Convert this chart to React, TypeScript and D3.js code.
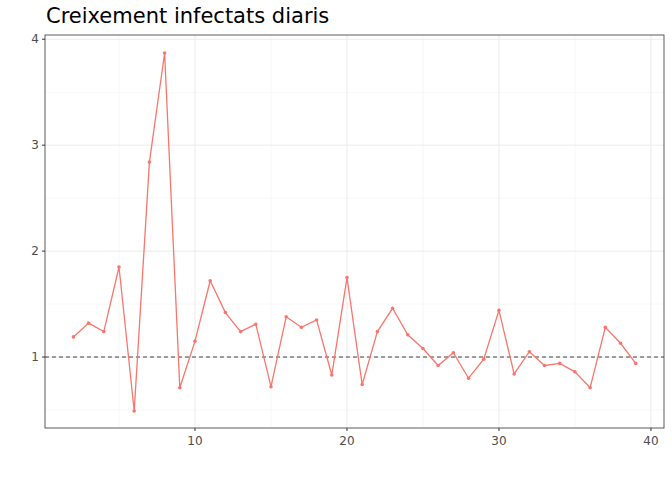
import * as d3 from 'd3';

const days = [2,3,4,5,6,7,8,9,10,11,12,13,14,15,16,17,18,19,20,21,22,23,24,25,26,27,28,29,30,31,32,33,34,35,36,37,38,39];
const growth = [1.19,1.32,1.24,1.85,0.49,2.84,3.87,0.71,1.15,1.72,1.42,1.24,1.31,0.72,1.38,1.28,1.35,0.83,1.75,0.74,1.24,1.46,1.21,1.08,0.92,1.04,0.80,0.98,1.44,0.84,1.05,0.92,0.94,0.86,0.71,1.28,1.13,0.94];
const xTicks = [10, 20, 30, 40];
const xMinor = [5, 15, 25, 35];
const yTicks = [1, 2, 3, 4];
const yMinor = [0.5, 1.5, 2.5, 3.5];

export default function App() {
  const W = 672, H = 480;
  const m = { left: 45, right: 8, top: 35, bottom: 52 };
  const x = d3.scaleLinear().domain([0.13, 40.86]).range([m.left, W - m.right]);
  const y = d3.scaleLinear().domain([0.33, 4.04]).range([H - m.bottom, m.top]);
  const line = d3.line<number>().x((_, i) => x(days[i])).y(d => y(d));
  const font = 'DejaVu Sans, sans-serif';
  return (
    <svg width={W} height={H} style={{ position: 'absolute', left: 0, top: 0 }} fontFamily={font}>
      <rect width={W} height={H} fill="#fff" />
      {xMinor.map(t => <line key={'xm' + t} x1={x(t)} x2={x(t)} y1={m.top} y2={H - m.bottom} stroke="#f2f2f2" strokeWidth={0.6} />)}
      {yMinor.map(t => <line key={'ym' + t} y1={y(t)} y2={y(t)} x1={m.left} x2={W - m.right} stroke="#f2f2f2" strokeWidth={0.6} />)}
      {xTicks.map(t => <line key={'x' + t} x1={x(t)} x2={x(t)} y1={m.top} y2={H - m.bottom} stroke="#ebebeb" strokeWidth={1} />)}
      {yTicks.map(t => <line key={'y' + t} y1={y(t)} y2={y(t)} x1={m.left} x2={W - m.right} stroke="#ebebeb" strokeWidth={1} />)}
      <line x1={m.left} x2={W - m.right} y1={y(1)} y2={y(1)} stroke="#444" strokeDasharray="4,3" strokeWidth={1} />
      <path d={line(growth) ?? ''} fill="none" stroke="#F8766D" strokeWidth={1.3} />
      {growth.map((v, i) => <circle key={i} cx={x(days[i])} cy={y(v)} r={1.8} fill="#F8766D" />)}
      <rect x={m.left} y={m.top} width={W - m.left - m.right} height={H - m.top - m.bottom} fill="none" stroke="#333" strokeWidth={0.8} />
      {xTicks.map(t => (
        <g key={'xt' + t}>
          <line x1={x(t)} x2={x(t)} y1={H - m.bottom} y2={H - m.bottom + 3} stroke="#333" />
          <text x={x(t)} y={H - m.bottom + 17} textAnchor="middle" fontSize={12} fill="#4d4d4d">{t}</text>
        </g>
      ))}
      {yTicks.map(t => (
        <g key={'yt' + t}>
          <line x1={m.left - 3} x2={m.left} y1={y(t)} y2={y(t)} stroke="#333" />
          <text x={m.left - 6} y={y(t) + 4} textAnchor="end" fontSize={12} fill="#4d4d4d">{t}</text>
        </g>
      ))}
      <text x={46} y={23} fontSize={21} fill="#000">Creixement infectats diaris</text>
    </svg>
  );
}
